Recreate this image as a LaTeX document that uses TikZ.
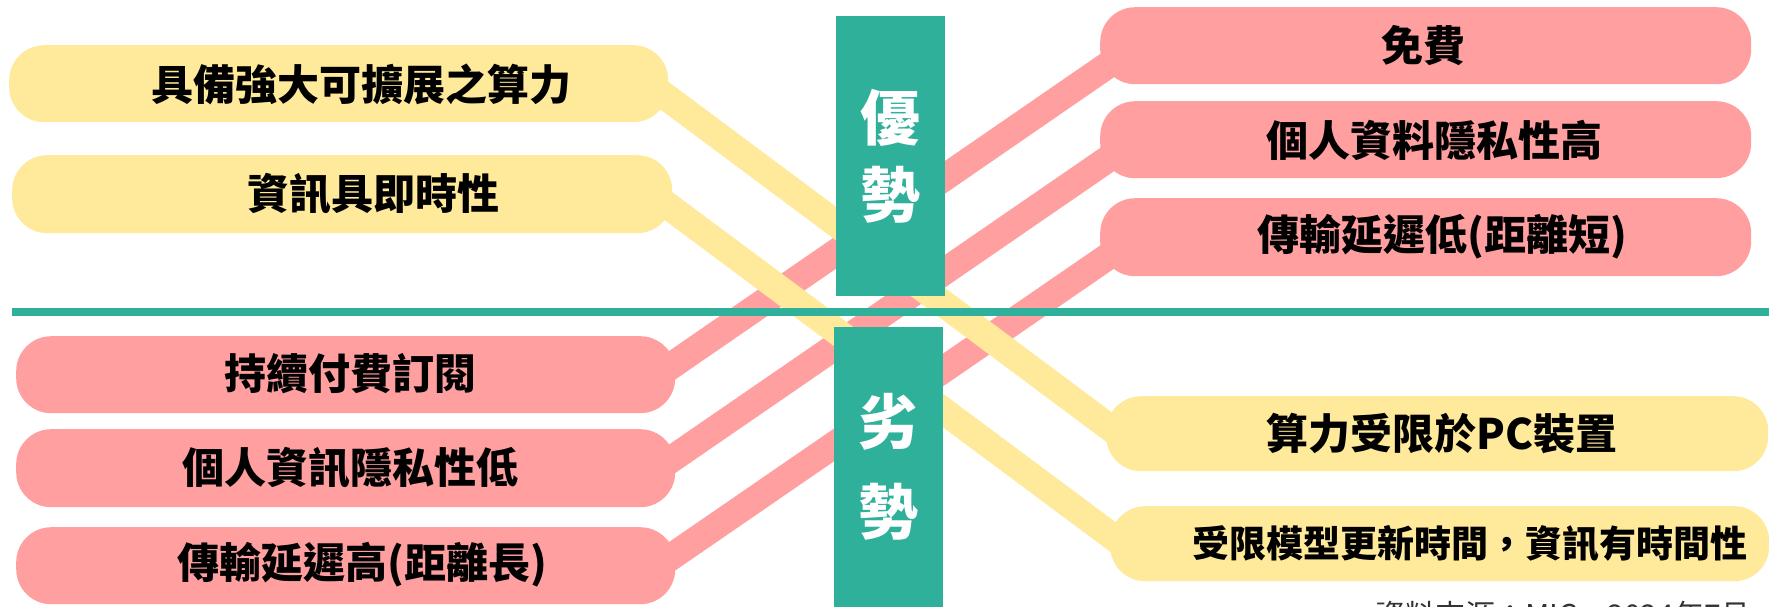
\documentclass[tikz,border=0pt]{standalone}
\usepackage{fontspec}
\newfontfamily\cjk{Noto Sans CJK TC}
\usetikzlibrary{calc}
\definecolor{tealc}{HTML}{2FB09A}
\definecolor{pinkc}{HTML}{FF9F9F}
\definecolor{yellc}{HTML}{FFE99A}
\definecolor{srcc}{HTML}{333333}
\pgfdeclarelayer{bandlayer}
\pgfsetlayers{bandlayer,main}
\begin{document}
\begin{tikzpicture}[x=1pt,y=-1pt,
  pill/.style={rounded corners=35pt, inner sep=0pt, anchor=north west},
  ypill/.style={pill, fill=yellc},
  ppill/.style={pill, fill=pinkc},
  lbl/.style={font=\cjk\bfseries\fontsize{42}{50}\selectfont, text=black, inner sep=0pt},
  ylink/.style={yellc, line width=27pt},
  plink/.style={pinkc, line width=27pt},
  gbox/.style={fill=tealc, inner sep=0pt, anchor=north west, minimum width=109pt, minimum height=280pt, text=white, align=center},
]
\useasboundingbox (0,0) rectangle (1769,606);
\clip (0,0) rectangle (1769,606);

% boxes
\path
  (9,45)    node[ypill, minimum width=659pt, minimum height=77pt] (LY1) {}
  (12,155)  node[ypill, minimum width=660pt, minimum height=78pt] (LY2) {}
  (1106,396) node[ypill, minimum width=662pt, minimum height=75pt] (RY1) {}
  (1110,506) node[ypill, minimum width=659pt, minimum height=75pt] (RY2) {}
  (16,336)  node[ppill, minimum width=659pt, minimum height=77pt] (LP1) {}
  (16,429)  node[ppill, minimum width=659pt, minimum height=78pt] (LP2) {}
  (16,527)  node[ppill, minimum width=659pt, minimum height=77pt] (LP3) {}
  (1100,7)  node[ppill, minimum width=651pt, minimum height=77pt] (RP1) {}
  (1100,101) node[ppill, minimum width=651pt, minimum height=77pt] (RP2) {}
  (1100,198) node[ppill, minimum width=651pt, minimum height=78pt] (RP3) {};

% bands (behind boxes)
\begin{pgfonlayer}{bandlayer}
\draw[plink] ($(LP1.east)+(-17,0)$) -- ($(RP1.west)+(36,0)$);
\draw[plink] ($(LP2.east)+(-17,0)$) -- ($(RP2.west)+(36,0)$);
\draw[plink] ($(LP3.east)+(-17,0)$) -- ($(RP3.west)+(36,0)$);
\draw[ylink] ($(LY1.east)+(-20,0)$) -- ($(RY1.west)+(12,0)$);
\draw[ylink] ($(LY2.east)+(-20,0)$) -- ($(RY2.west)+(12,0)$);
\end{pgfonlayer}

% labels
\node[lbl] (tLY1) at (361,84) {具備強大可擴展之算力};
\node[lbl] (tLY2) at (373,194) {資訊具即時性};
\node[lbl] (tLP1) at (350,374) {持續付費訂閱};
\node[lbl] (tLP2) at (350,468) {個人資訊隱私性低};
\node[lbl] (tLP3) at (362,565) {傳輸延遲高(距離長)};
\node[lbl] (tRP1) at (1423,46) {免費};
\node[lbl] (tRP2) at (1434,140) {個人資料隱私性高};
\node[lbl] (tRP3) at (1442,237) {傳輸延遲低(距離短)};
\node[lbl] (tRY1) at (1442,434) {算力受限於PC裝置};
\node[lbl, font=\cjk\bfseries\fontsize{37}{44}\selectfont] (tRY2) at (1470,544) {受限模型更新時間，資訊有時間性};

% divider
\coordinate (divL) at (12,312);
\coordinate (divR) at (1769,312);
\draw[tealc, line width=8pt] (divL) -- (divR);

% green panels
\node[gbox, font=\cjk\bfseries\fontsize{60}{77}\selectfont] (adv) at (836,16) {優\\勢};
\node[gbox, font=\cjk\bfseries\fontsize{60}{90}\selectfont] (dis) at (834,327) {劣\\勢};

% source
\node[anchor=base west, inner sep=0pt, text=srcc, font=\cjk\fontsize{30}{36}\selectfont] (src) at (1375,626) {資料來源：MIC，2024年7月};
\end{tikzpicture}
\end{document}
